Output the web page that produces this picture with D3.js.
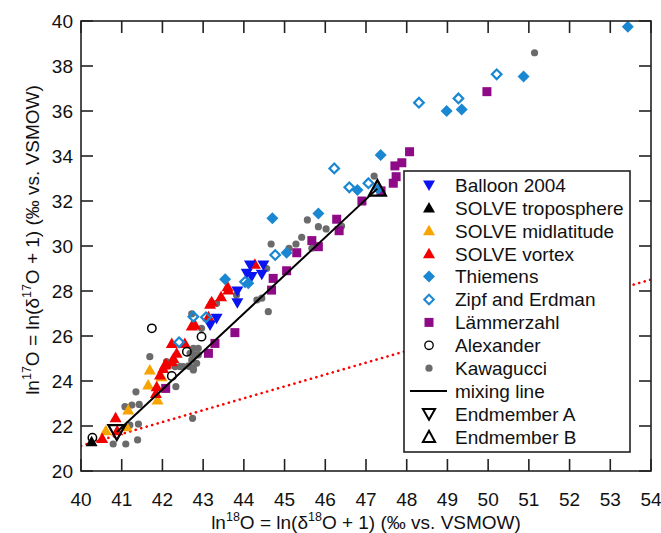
<!DOCTYPE html>
<html><head><meta charset="utf-8">
<script src="https://cdn.jsdelivr.net/npm/d3@7"></script>
<style>body{margin:0;background:#fff}svg{display:block}text{font-family:"Liberation Sans",Arial,sans-serif;fill:#111}</style>
</head><body><svg id="c" width="661" height="533"></svg>
<script>
// ---- data ----
const xTicks = [40,41,42,43,44,45,46,47,48,49,50,51,52,53,54];
const yTicks = [20,22,24,26,28,30,32,34,36,38,40];
const balloon = [[43.17,26.49],[43.33,26.79],[43.84,27.48],[43.84,28.0],[44.07,28.79],[44.19,28.64],[44.15,29.16],[44.44,28.74],[44.48,29.16]];
const solveTropo = [[40.26,21.3]];
const solveMid = [[40.61,21.79],[41.12,21.97],[41.16,22.71],[41.65,23.82],[41.69,24.49],[41.88,23.16],[41.98,24.19]];
const solveVortex = [[40.52,21.45],[40.85,22.37],[40.89,21.79],[41.86,23.75],[41.84,23.45],[41.94,24.27],[42.09,24.76],[42.23,24.86],[42.02,24.56],[42.06,24.71],[42.27,25.0],[42.35,25.23],[42.23,25.67],[42.55,25.67],[42.72,26.44],[42.8,26.49],[43.13,26.86],[43.17,27.41],[43.21,27.52],[43.44,27.75],[43.6,28.19],[43.62,28.04],[44.27,29.19]];
const thiemens = [[43.54,28.52],[44.11,28.34],[45.05,29.7],[44.7,31.23],[45.83,31.45],[46.79,32.49],[47.36,34.04],[47.3,32.55],[48.98,36.0],[49.35,36.07],[50.87,37.53],[53.43,39.75]];
const zipf = [[42.41,25.72],[42.76,26.86],[43.07,26.83],[44.03,28.41],[44.77,29.6],[46.22,33.45],[46.59,32.61],[47.06,32.79],[48.3,36.37],[49.27,36.56],[50.21,37.63]];
const lammerzahl = [[42.08,23.67],[43.13,25.23],[43.29,25.67],[43.78,26.15],[44.68,28.04],[44.72,28.56],[45.05,28.9],[45.3,29.7],[45.67,30.24],[45.83,29.97],[46.28,31.19],[46.34,30.68],[46.9,32.0],[47.37,32.45],[47.67,32.79],[47.74,33.08],[47.71,33.56],[47.88,33.7],[48.07,34.19],[49.97,36.86]];
const alexander = [[40.28,21.48],[41.74,26.34],[42.23,24.22],[42.6,25.3],[42.96,25.97]];
const kawagucci = [[40.79,21.2],[41.1,21.2],[41.39,21.38],[41.08,22.86],[41.25,22.93],[41.43,22.96],[41.2,22.04],[41.41,22.09],[41.35,23.52],[42.33,23.75],[42.31,24.64],[42.64,24.67],[42.76,24.49],[42.84,24.79],[42.74,22.34],[42.1,24.86],[41.69,25.08],[42.43,24.64],[42.51,24.64],[42.68,24.64],[42.76,24.56],[42.72,24.93],[42.8,25.16],[42.88,25.16],[42.68,25.23],[42.76,25.45],[42.88,25.45],[42.72,26.98],[42.96,26.34],[43.33,27.45],[43.82,27.82],[44.32,27.6],[44.44,27.68],[44.6,27.08],[44.56,29.0],[44.67,30.09],[45.11,29.9],[45.28,30.09],[45.42,30.39],[45.67,29.9],[45.56,31.16],[45.83,30.86],[46.02,30.76],[46.4,30.89],[47.2,33.11],[51.14,38.59]];
const endA = [[40.88,21.73]];
const endB = [[47.28,32.55]];
const mixingLine = [[40.88,21.73],[47.28,32.55]];
const tflLine = [[40,21.12],[54,28.51]];
const legendLabels = ["Balloon 2004","SOLVE troposphere","SOLVE midlatitude","SOLVE vortex","Thiemens","Zipf and Erdman","Lämmerzahl","Alexander","Kawagucci","mixing line","Endmember A","Endmember B"];

// ---- layout ----
const L=81,T=21,R=651,B=471;
const svg=d3.select("#c");
const x=d3.scaleLinear().domain([40,54]).range([L,R]);
const y=d3.scaleLinear().domain([20,40]).range([B,T]);

const styles = {
  balloon:{shape:"tdown",fill:"#0a14f0",stroke:"none"},
  tropo:{shape:"tup",fill:"#000",stroke:"none"},
  mid:{shape:"tup",fill:"#f8a400",stroke:"none"},
  vortex:{shape:"tup",fill:"#f20000",stroke:"none"},
  thiemens:{shape:"diamond",fill:"#1a87d3",stroke:"none"},
  zipf:{shape:"odiamond",fill:"none",stroke:"#1a87d3"},
  lamm:{shape:"square",fill:"#8e0a86",stroke:"none"},
  alex:{shape:"ocircle",fill:"none",stroke:"#000"},
  kawa:{shape:"circle",fill:"#6b6b6b",stroke:"none"},
  endA:{shape:"bigdown",fill:"none",stroke:"#000"},
  endB:{shape:"bigup",fill:"none",stroke:"#000"}
};
function path(shape){
  switch(shape){
    case "tup": return "M0,-6L6,4.5L-6,4.5Z";
    case "tdown": return "M0,6L6,-4.5L-6,-4.5Z";
    case "diamond": return "M0,-6L6,0L0,6L-6,0Z";
    case "odiamond": return "M0,-4.8L4.8,0L0,4.8L-4.8,0Z";
    case "square": return "M-4.5,-4.5H4.5V4.5H-4.5Z";
    case "circle": return d3.arc()({innerRadius:0,outerRadius:3.6,startAngle:0,endAngle:2*Math.PI});
    case "ocircle": return d3.arc()({innerRadius:0,outerRadius:4.2,startAngle:0,endAngle:2*Math.PI});
    case "bigdown": return "M0,8L8.5,-7L-8.5,-7Z";
    case "bigup": return "M0,-8.5L8.5,7L-8.5,7Z";
  }
}
function sw(shape){return shape==="odiamond"?2.2:shape==="ocircle"?1.5:(shape==="bigdown"||shape==="bigup")?2.2:0;}
function drawSeries(data,st){
  svg.append("g").selectAll("path").data(data).join("path")
    .attr("d",path(st.shape))
    .attr("transform",d=>`translate(${x(d[0])},${y(d[1])})`)
    .attr("fill",st.fill).attr("stroke",st.stroke).attr("stroke-width",sw(st.shape));
}

// clip
svg.append("defs").append("clipPath").attr("id","clip").append("rect").attr("x",L).attr("y",T).attr("width",R-L).attr("height",B-T);

// TFL dotted line
const line=d3.line().x(d=>x(d[0])).y(d=>y(d[1]));
svg.append("path").attr("d",line(tflLine)).attr("stroke","#f00").attr("stroke-width",2.6)
  .attr("stroke-dasharray","0.1,5.6").attr("stroke-linecap","round").attr("fill","none").attr("clip-path","url(#clip)");

drawSeries(kawagucci,styles.kawa);
drawSeries(lammerzahl,styles.lamm);
drawSeries(solveMid,styles.mid);
drawSeries(solveVortex,styles.vortex);
drawSeries(solveTropo,styles.tropo);
drawSeries(balloon,styles.balloon);
drawSeries(thiemens,styles.thiemens);
drawSeries(zipf,styles.zipf);
drawSeries(alexander,styles.alex);

svg.append("path").attr("d",line(mixingLine)).attr("stroke","#000").attr("stroke-width",2).attr("fill","none");
drawSeries(endA,styles.endA);
drawSeries(endB,styles.endB);

// axes frame & ticks
const tl=12;
const ax=svg.append("g").attr("stroke","#222").attr("stroke-width",1.6);
ax.append("rect").attr("x",L).attr("y",T).attr("width",R-L).attr("height",B-T).attr("fill","none");
xTicks.forEach(t=>{
  ax.append("line").attr("x1",x(t)).attr("x2",x(t)).attr("y1",B).attr("y2",B-tl);
  ax.append("line").attr("x1",x(t)).attr("x2",x(t)).attr("y1",T).attr("y2",T+tl);
});
yTicks.forEach(t=>{
  ax.append("line").attr("x1",L).attr("x2",L+tl).attr("y1",y(t)).attr("y2",y(t));
  ax.append("line").attr("x1",R).attr("x2",R-tl).attr("y1",y(t)).attr("y2",y(t));
});
svg.append("g").selectAll("text").data(xTicks).join("text")
  .attr("x",d=>x(d)).attr("y",506).attr("text-anchor","middle").attr("font-size",19).text(d=>d);
svg.append("g").selectAll("text").data(yTicks).join("text")
  .attr("x",73).attr("y",d=>y(d)+6.8).attr("text-anchor","end").attr("font-size",19).text(d=>d);

// axis titles
function title(sel,iso){
  sel.attr("font-size",19);
  sel.append("tspan").text("ln");
  sel.append("tspan").attr("dy",-8).attr("font-size",12.5).text(iso);
  sel.append("tspan").attr("dy",8).text("O = ln(δ");
  sel.append("tspan").attr("dy",-8).attr("font-size",12.5).text(iso);
  sel.append("tspan").attr("dy",8).text("O + 1) (‰ vs. VSMOW)");
}
title(svg.append("text").attr("x",(L+R)/2).attr("y",529).attr("text-anchor","middle"),"18");
title(svg.append("text").attr("transform",`translate(39,${(T+B)/2-6}) rotate(-90)`).attr("text-anchor","middle"),"17");

// legend
const lg=svg.append("g");
lg.append("rect").attr("x",404).attr("y",171).attr("width",226).attr("height",281).attr("fill","#fff").attr("stroke","#222").attr("stroke-width",1.6);
const legSt=[styles.balloon,styles.tropo,styles.mid,styles.vortex,styles.thiemens,styles.zipf,styles.lamm,styles.alex,styles.kawa,null,styles.endA,styles.endB];
legendLabels.forEach((lab,i)=>{
  const cy=185+i*22.9;
  const st=legSt[i];
  if(st){
    let shp=st.shape;
    const sc=(shp==="bigdown"||shp==="bigup")?0.72:1;
    lg.append("path").attr("d",path(shp)).attr("transform",`translate(429,${cy}) scale(${sc})`)
      .attr("fill",st.fill).attr("stroke",st.stroke).attr("stroke-width",sw(shp)/sc*0.9);
  } else {
    lg.append("line").attr("x1",410).attr("x2",447).attr("y1",cy).attr("y2",cy).attr("stroke","#000").attr("stroke-width",2);
  }
  lg.append("text").attr("x",455).attr("y",cy+6.8).attr("font-size",19).text(lab);
});
</script></body></html>
